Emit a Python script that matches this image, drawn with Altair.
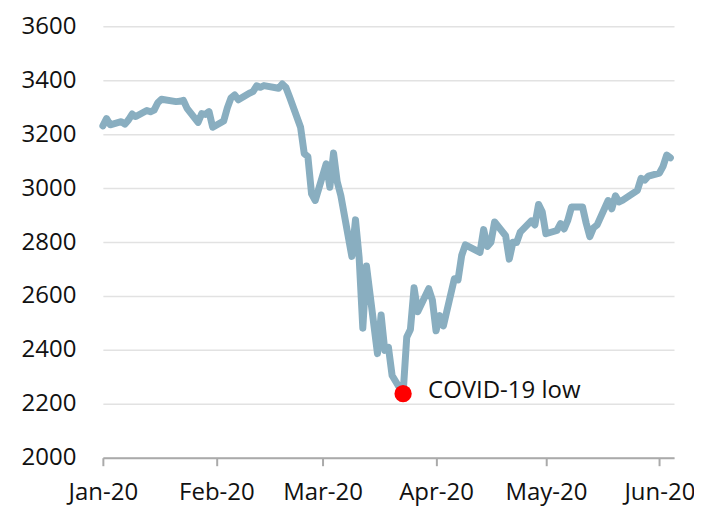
import altair as alt
import pandas as pd

dates = [
    "2020-01-01", "2020-01-02", "2020-01-03", "2020-01-06", "2020-01-07", "2020-01-08", "2020-01-09", "2020-01-10",
    "2020-01-13", "2020-01-14", "2020-01-15", "2020-01-16", "2020-01-17",
    "2020-01-21", "2020-01-22", "2020-01-23", "2020-01-24",
    "2020-01-27", "2020-01-28", "2020-01-29", "2020-01-30", "2020-01-31",
    "2020-02-03", "2020-02-04", "2020-02-05", "2020-02-06", "2020-02-07",
    "2020-02-10", "2020-02-11", "2020-02-12", "2020-02-13", "2020-02-14",
    "2020-02-18", "2020-02-19", "2020-02-20", "2020-02-21",
    "2020-02-24", "2020-02-25", "2020-02-26", "2020-02-27", "2020-02-28",
    "2020-03-02", "2020-03-03", "2020-03-04", "2020-03-05", "2020-03-06",
    "2020-03-09", "2020-03-10", "2020-03-11", "2020-03-12", "2020-03-13",
    "2020-03-16", "2020-03-17", "2020-03-18", "2020-03-19", "2020-03-20",
    "2020-03-23", "2020-03-24", "2020-03-25", "2020-03-26", "2020-03-27",
    "2020-03-30", "2020-03-31", "2020-04-01", "2020-04-02", "2020-04-03",
    "2020-04-06", "2020-04-07", "2020-04-08", "2020-04-09",
    "2020-04-13", "2020-04-14", "2020-04-15", "2020-04-16", "2020-04-17",
    "2020-04-20", "2020-04-21", "2020-04-22", "2020-04-23", "2020-04-24",
    "2020-04-27", "2020-04-28", "2020-04-29", "2020-04-30", "2020-05-01",
    "2020-05-04", "2020-05-05", "2020-05-06", "2020-05-07", "2020-05-08",
    "2020-05-11", "2020-05-12", "2020-05-13", "2020-05-14", "2020-05-15",
    "2020-05-18", "2020-05-19", "2020-05-20", "2020-05-21", "2020-05-22",
    "2020-05-26", "2020-05-27", "2020-05-28", "2020-05-29",
    "2020-06-01", "2020-06-02", "2020-06-03", "2020-06-04",
]
values = [
    3230.8, 3257.9, 3234.9, 3246.3, 3237.2, 3253.1, 3274.7, 3265.4,
    3288.1, 3283.2, 3289.3, 3316.8, 3329.6,
    3320.8, 3321.8, 3325.5, 3295.5,
    3243.6, 3276.2, 3273.4, 3283.7, 3225.5,
    3248.9, 3297.6, 3334.7, 3345.8, 3327.7,
    3352.1, 3357.8, 3379.5, 3373.9, 3380.2,
    3370.3, 3386.2, 3373.2, 3337.8,
    3225.9, 3128.2, 3116.4, 2978.8, 2954.2,
    3090.2, 3003.4, 3130.1, 3023.9, 2972.4,
    2746.6, 2882.2, 2741.4, 2480.6, 2711.0,
    2386.1, 2529.2, 2398.1, 2409.4, 2304.9,
    2237.4, 2447.3, 2475.6, 2630.1, 2541.5,
    2626.7, 2584.6, 2470.5, 2526.9, 2488.7,
    2663.7, 2659.4, 2750.0, 2789.8,
    2761.6, 2846.1, 2783.4, 2799.6, 2874.6,
    2823.2, 2736.6, 2799.3, 2797.8, 2836.7,
    2878.5, 2863.4, 2939.5, 2912.4, 2830.7,
    2842.7, 2868.4, 2848.4, 2881.2, 2929.8,
    2930.3, 2870.1, 2820.0, 2852.5, 2863.7,
    2953.9, 2922.9, 2971.6, 2948.5, 2955.5,
    2991.8, 3036.1, 3029.7, 3044.3,
    3055.7, 3080.8, 3122.9, 3112.4,
]
low_date = ["2020-03-23"]
low_value = [2237.4]
low_label = ["COVID-19 low"]
tick_months = ["2020-01-01", "2020-02-01", "2020-03-01", "2020-04-01", "2020-05-01", "2020-06-01"]
x_domain = ["2020-01-01", "2020-06-05"]
y_ticks = [2000, 2200, 2400, 2600, 2800, 3000, 3200, 3400, 3600]


def ms(s):
    return int(pd.Timestamp(s, tz="UTC").value // 10**6)


df = pd.DataFrame({"date": [ms(d) for d in dates], "value": values})
low = pd.DataFrame({"date": [ms(d) for d in low_date], "value": low_value, "label": low_label})

FONT = "Open Sans"
FS = 24

x = alt.X(
    "date:T",
    scale=alt.Scale(type="utc", domain=[ms(d) for d in x_domain], nice=False),
    axis=alt.Axis(
        title=None, values=[ms(d) for d in tick_months],
        labelExpr="utcFormat(datum.value, '%b-%y')",
        grid=False, domain=True, domainColor="#aaaaaa", domainWidth=2,
        ticks=True, tickColor="#aaaaaa", tickWidth=2, tickSize=8,
        labelPadding=15, labelFontSize=FS, labelFont=FONT, labelColor="#111111",
        labelFlush=False,
    ),
)
y = alt.Y(
    "value:Q",
    scale=alt.Scale(domain=[2000, 3600], nice=False, zero=False),
    axis=alt.Axis(
        title=None, values=y_ticks, format="d", grid=True, gridColor="#e2e2e2", gridWidth=1.5,
        domain=False, ticks=False, labelPadding=27, labelFontSize=FS, labelFont=FONT,
        labelColor="#111111",
    ),
)

line = alt.Chart(df).mark_line(
    color="#89aec0", strokeWidth=7, strokeJoin="round", strokeCap="round"
).encode(x=x, y=y)

dot = alt.Chart(low).mark_circle(color="#ff0000", size=300, opacity=1).encode(x=x, y=y)

text = alt.Chart(low).mark_text(
    align="left", baseline="middle", dx=25, dy=-3, fontSize=FS, font=FONT, color="#111111"
).encode(x=x, y=y, text="label:N")

chart = (
    alt.layer(line, dot, text)
    .properties(
        width=572, height=432,
        background="white",
        autosize=alt.AutoSizeParams(type="none"),
        padding={"left": 95, "top": 18, "right": 20, "bottom": 50},
    )
    .configure_view(stroke="transparent", strokeWidth=0)
)

chart.save("out.html", embed_options={"renderer": "svg", "actions": False})
